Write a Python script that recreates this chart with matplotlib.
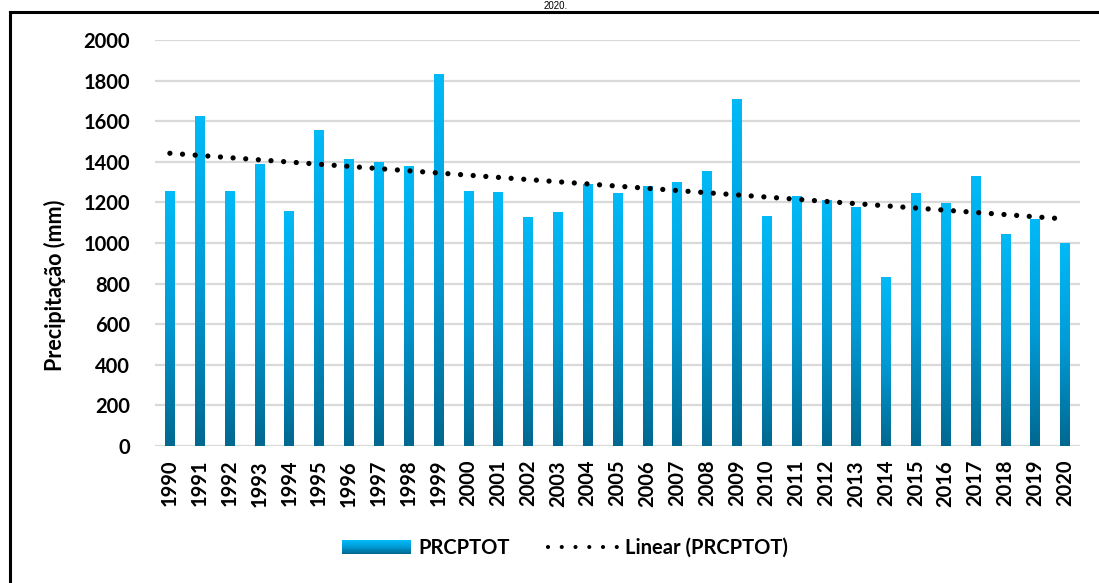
import numpy as np
import matplotlib
matplotlib.use("Agg")
import matplotlib.pyplot as plt
from matplotlib.colors import LinearSegmentedColormap
from matplotlib.legend_handler import HandlerBase
from matplotlib.patches import Rectangle
from matplotlib.lines import Line2D

years = list(range(1990, 2021))
prcptot = [1256, 1622, 1256, 1389, 1156, 1553, 1409, 1397, 1378, 1831,
           1256, 1250, 1125, 1149, 1287, 1245, 1276, 1300, 1351, 1706,
           1131, 1227, 1207, 1176, 828, 1245, 1194, 1327, 1043, 1117, 998]
yticks = [0, 200, 400, 600, 800, 1000, 1200, 1400, 1600, 1800, 2000]
series_name = "PRCPTOT"
trend_name = "Linear (PRCPTOT)"
ylabel = "Precipitação (mm)"

FONT = ["Lato", "DejaVu Sans"]
plt.rcParams['font.family'] = FONT

cmap = LinearSegmentedColormap.from_list("grad", ["#006890", "#009BD6", "#00BAF7"])

fig = plt.figure(figsize=(10.99, 5.83), dpi=100)
ax = fig.add_axes([0.1410, 0.2350, 0.8417, 0.6964])

x = np.arange(len(years))
bars = ax.bar(x, prcptot, width=0.32, color='none', zorder=2)
grad = np.linspace(1, 0, 256).reshape(-1, 1)
for r in bars:
    x0 = r.get_x(); w = r.get_width(); h = r.get_height()
    ax.imshow(grad, extent=(x0, x0 + w, 0, h), cmap=cmap, aspect='auto',
              origin='upper', interpolation='bilinear', zorder=2, vmin=0, vmax=1)

coef = np.polyfit(x, prcptot, 1)
trend = np.polyval(coef, x)
ax.plot(x, trend, color='black', lw=3.8, ls=(0, (0.001, 2.4)),
        dash_capstyle='round', zorder=3)

ax.set_xlim(-0.5, len(years) - 0.5)
ax.set_ylim(0, 2000)
ax.set_yticks(yticks)
ax.set_yticklabels([str(v) for v in yticks], fontsize=14.5, fontweight='bold')
ax.set_xticks(x)
ax.set_xticklabels([str(y) for y in years], rotation=90, fontsize=14.5, fontweight='bold')
ax.tick_params(axis='both', length=0)
ax.tick_params(axis='y', pad=18)
ax.tick_params(axis='x', pad=10)
ax.grid(axis='y', color='#D9D9D9', lw=1.6, zorder=0)
ax.set_axisbelow(True)
for s in ax.spines.values():
    s.set_visible(False)

fig.text(55 / 1099, 1 - 285 / 583, ylabel, rotation=90, ha='center', va='center',
         fontsize=15.5, fontweight='bold')

class GradientHandler(HandlerBase):
    def create_artists(self, legend, orig_handle, xdescent, ydescent, width,
                       height, fontsize, trans):
        n = 24
        arts = []
        for i in range(n):
            arts.append(Rectangle((-xdescent, -ydescent + height * i / n), width,
                                  height / n * 1.05, facecolor=cmap(i / (n - 1)),
                                  lw=0, transform=trans))
        return arts

bar_handle = Rectangle((0, 0), 1, 1)
line_handle = Line2D([0], [0], color='black', lw=3.0, ls=(0, (0.001, 3.3)),
                     dash_capstyle='round')
fig.legend([bar_handle, line_handle], [series_name, trend_name],
           handler_map={Rectangle: GradientHandler()},
           loc='center', bbox_to_anchor=(565 / 1099, 0.06), ncol=2, frameon=False,
           prop={'family': FONT, 'weight': 'bold', 'size': 14.5},
           handlelength=3.4, handletextpad=0.4, columnspacing=1.9)

# figure frame (left and top) and caption fragment above the frame
fig.add_artist(Line2D([10 / 1099, 10 / 1099], [0, 1 - 12 / 583], color='black', lw=2.2,
                      transform=fig.transFigure))
fig.add_artist(Line2D([10 / 1099, 1], [1 - 12 / 583, 1 - 12 / 583], color='black', lw=2.2,
                      transform=fig.transFigure))
fig.text(556 / 1099, 1 - 9 / 583, "2020.", ha='center', va='baseline', fontsize=7,
         family=["Liberation Sans", "DejaVu Sans"])

fig.savefig("out.png", dpi=100)
